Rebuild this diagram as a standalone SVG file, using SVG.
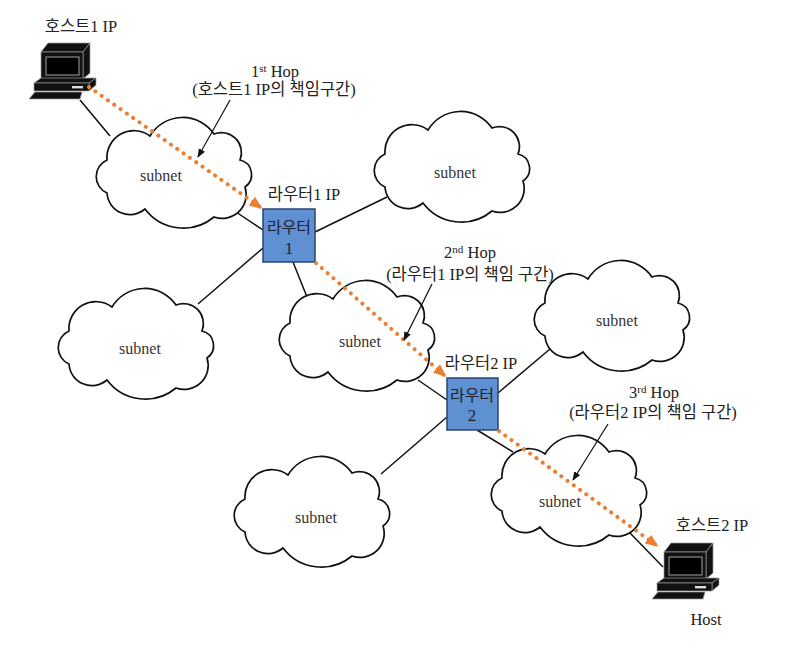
<svg xmlns="http://www.w3.org/2000/svg" width="792" height="662" viewBox="0 0 792 662">
<style>
.cl{fill:#fff;stroke:#111;stroke-width:1.7}
.lbl{font-family:"Liberation Serif","Noto Sans CJK KR",serif;font-size:16.5px;fill:#222;text-anchor:middle}
.sub{font-family:"Liberation Serif",serif;font-size:16px;fill:#333;text-anchor:middle}
.rt{fill:#5f90d2;stroke:#2a4670;stroke-width:1.5}
.rtx{font-family:"Noto Sans CJK KR","Liberation Serif",sans-serif;font-size:16px;fill:#1a2230;text-anchor:middle}
.rtn{font-family:"Liberation Serif",serif;font-size:17px;fill:#1a2230;text-anchor:middle}
.ln{stroke:#111;stroke-width:1.5;fill:none}
.hop{stroke:#ED7D31;stroke-width:4;stroke-linecap:round;stroke-dasharray:0.1 7.6;fill:none}
.ann{stroke:#111;stroke-width:1.2;fill:none}
</style>
<defs>
<path id="cloud" d="M12,40 A27,27 0 0 1 55,16 A38,38 0 0 1 119,14 A20,20 0 0 1 145,40 A15,15 0 0 1 150,67 A24,24 0 0 1 119,97 A48,48 0 0 1 50,89 A23,23 0 0 1 12,73 A18,18 0 0 1 12,40 Z"/>
<g id="pc">
<polygon points="12,10 19,1 61,1 54,10" fill="#111" stroke="#999" stroke-width="0.7"/>
<polygon points="54,10 61,1 61,31 54,37" fill="#111" stroke="#999" stroke-width="0.7"/>
<rect x="12" y="10" width="42" height="27" fill="#111" stroke="#999" stroke-width="0.7"/>
<rect x="17" y="15" width="33" height="18" fill="#000" stroke="#8a8a8a" stroke-width="1.2"/>
<polygon points="5,41 12,36 67,36 60,41" fill="#111" stroke="#999" stroke-width="0.7"/>
<polygon points="60,41 67,36 67,43 60,49" fill="#111" stroke="#999" stroke-width="0.7"/>
<rect x="5" y="41" width="55" height="8" fill="#111" stroke="#999" stroke-width="0.7"/>
<rect x="43" y="44" width="11" height="2.4" fill="#ddd"/>
<polygon points="6,50 53,50 51,57 0,57" fill="#111" stroke="#999" stroke-width="0.7"/>
</g>
<marker id="oa" markerUnits="userSpaceOnUse" markerWidth="14" markerHeight="12" refX="10" refY="5.5" orient="auto" viewBox="0 0 14 12">
<path d="M0,0 L13,5.5 L0,11 z" fill="#ED7D31"/>
</marker>
<marker id="ba" markerUnits="userSpaceOnUse" markerWidth="10" markerHeight="8" refX="8" refY="3.5" orient="auto" viewBox="0 0 10 8">
<path d="M0,0 L9,3.5 L0,7 z" fill="#111"/>
</marker>
</defs>
<rect width="792" height="662" fill="#fff"/>

<g id="connectors">
<line class="ln" x1="80" y1="100" x2="110" y2="136"/>
<line class="ln" x1="233" y1="210" x2="263" y2="230"/>
<line class="ln" x1="315" y1="232" x2="387" y2="197"/>
<line class="ln" x1="263" y1="248" x2="198" y2="304"/>
<line class="ln" x1="293" y1="262" x2="307" y2="297"/>
<line class="ln" x1="418" y1="380" x2="447" y2="400"/>
<line class="ln" x1="498" y1="393" x2="550" y2="349"/>
<line class="ln" x1="447" y1="417" x2="381" y2="474"/>
<line class="ln" x1="477" y1="430" x2="513" y2="452"/>
<line class="ln" x1="630" y1="533" x2="663" y2="567"/>
</g>

<g id="subnet-a"><use href="#cloud" class="cl" transform="translate(95,120)"/><text class="sub" x="161" y="181">subnet</text></g>
<g id="subnet-b"><use href="#cloud" class="cl" transform="translate(373,114)"/><text class="sub" x="455" y="178">subnet</text></g>
<g id="subnet-c"><use href="#cloud" class="cl" transform="translate(57,291)"/><text class="sub" x="140" y="354">subnet</text></g>
<g id="subnet-d"><use href="#cloud" class="cl" transform="translate(278,283)"/><text class="sub" x="360" y="347">subnet</text></g>
<g id="subnet-e"><use href="#cloud" class="cl" transform="translate(533,263)"/><text class="sub" x="617" y="326">subnet</text></g>
<g id="subnet-f"><use href="#cloud" class="cl" transform="translate(233,459)"/><text class="sub" x="316" y="523">subnet</text></g>
<g id="subnet-g"><use href="#cloud" class="cl" transform="translate(490,438)"/><text class="sub" x="560" y="507">subnet</text></g>

<g id="host1">
<use href="#pc" transform="translate(29,42)"/>
<text class="lbl" x="81" y="32">호스트1 IP</text>
</g>
<g id="host2">
<use href="#pc" transform="translate(652,542)"/>
<text class="lbl" x="712" y="531">호스트2 IP</text>
<text class="lbl" x="706" y="625">Host</text>
</g>

<g id="router1">
<rect class="rt" x="263" y="209" width="52" height="53"/>
<text class="rtx" x="289" y="233">라우터</text>
<text class="rtn" x="289" y="254">1</text>
<text class="lbl" x="304" y="200">라우터1 IP</text>
</g>
<g id="router2">
<rect class="rt" x="447" y="378" width="51" height="52"/>
<text class="rtx" x="472" y="401">라우터</text>
<text class="rtn" x="472" y="421">2</text>
<text class="lbl" x="481" y="369">라우터2 IP</text>
</g>

<g id="hops">
<line class="hop" x1="89" y1="87" x2="260" y2="207" marker-end="url(#oa)"/>
<line class="hop" x1="316" y1="263" x2="444" y2="375" marker-end="url(#oa)"/>
<line class="hop" x1="499" y1="431" x2="656" y2="545" marker-end="url(#oa)"/>
</g>

<g id="annotations">
<line class="ann" x1="230" y1="100" x2="198" y2="157" marker-end="url(#ba)"/>
<line class="ann" x1="432" y1="284" x2="404" y2="340" marker-end="url(#ba)"/>
<line class="ann" x1="608" y1="424" x2="573" y2="480" marker-end="url(#ba)"/>
<text class="lbl" x="275" y="77">1<tspan font-size="11" dy="-5">st</tspan><tspan dy="5"> Hop</tspan></text>
<text class="lbl" x="274" y="95">(호스트1 IP의 책임구간)</text>
<text class="lbl" x="470" y="258">2<tspan font-size="11" dy="-5">nd</tspan><tspan dy="5"> Hop</tspan></text>
<text class="lbl" x="470" y="280">(라우터1 IP의 책임 구간)</text>
<text class="lbl" x="654" y="398">3<tspan font-size="11" dy="-5">rd</tspan><tspan dy="5"> Hop</tspan></text>
<text class="lbl" x="653" y="418">(라우터2 IP의 책임 구간)</text>
</g>
</svg>
